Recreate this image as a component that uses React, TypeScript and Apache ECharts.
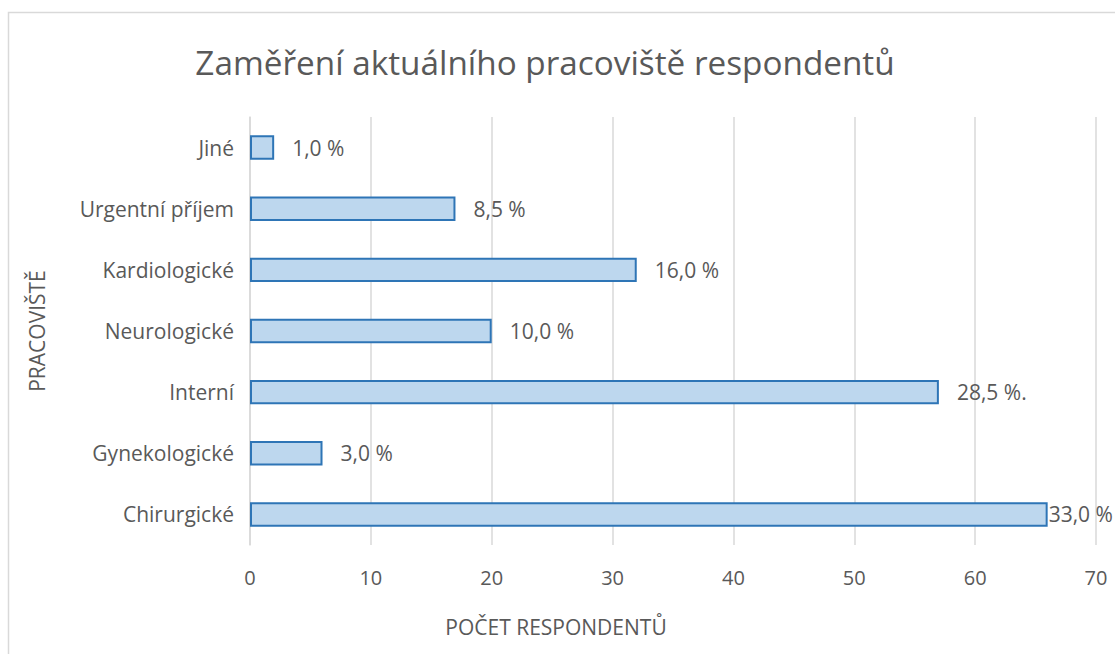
import React, { useEffect, useRef } from "react";
import * as echarts from "echarts";

const categories = ["Chirurgické", "Gynekologické", "Interní", "Neurologické", "Kardiologické", "Urgentní příjem", "Jiné"];
const counts = [66, 6, 57, 20, 32, 17, 2];
const percentLabels = ["33,0 %", "3,0 %", "28,5 %.", "10,0 %", "16,0 %", "8,5 %", "1,0 %"];
const xTicks = [0, 10, 20, 30, 40, 50, 60, 70];

const FONT = "'Open Sans', 'Noto Sans', sans-serif";
const GRAY = "#595959";

export default function App() {
  const ref = useRef<HTMLDivElement>(null);
  useEffect(() => {
    const chart = echarts.init(ref.current!, null, { renderer: "svg" });
    chart.setOption({
      animation: false,
      backgroundColor: "#ffffff",
      title: {
        text: "Zaměření aktuálního pracoviště respondentů",
        left: 540,
        textAlign: "center",
        top: 40,
        textStyle: { fontFamily: FONT, fontSize: 33.3, fontWeight: "normal", color: GRAY },
      },
      graphic: [
        {
          type: "rect",
          shape: { x: 8.5, y: 12.5, width: 1130, height: 660 },
          style: { fill: "none", stroke: "#d9d9d9", lineWidth: 1.5 },
          silent: true,
        },
      ],
      grid: { left: 250, right: 19, top: 117, bottom: 109 },
      xAxis: {
        type: "value",
        min: xTicks[0],
        max: xTicks[xTicks.length - 1],
        interval: 10,
        name: "POČET RESPONDENTŮ",
        nameLocation: "middle",
        nameGap: 71,
        nameTextStyle: { fontFamily: FONT, fontSize: 21, color: GRAY, padding: [0, 234, 0, 0] },
        axisLine: { show: false },
        axisTick: { show: false },
        axisLabel: { fontFamily: FONT, fontSize: 20, color: GRAY, margin: 22 },
        splitLine: { show: true, lineStyle: { color: "#d9d9d9", width: 1.5 } },
      },
      yAxis: {
        type: "category",
        data: categories,
        name: "PRACOVIŠTĚ",
        nameLocation: "middle",
        nameGap: 203,
        nameRotate: 90,
        nameTextStyle: { fontFamily: FONT, fontSize: 21, color: GRAY },
        axisLine: { show: true, lineStyle: { color: "#d9d9d9", width: 1.5 } },
        axisTick: { show: false },
        axisLabel: { fontFamily: FONT, fontSize: 21, color: GRAY, margin: 16 },
        splitLine: { show: false },
      },
      series: [
        {
          type: "bar",
          data: counts.map((v, i) => ({
            value: v,
            label: { distance: i === 0 ? 1 : 18 },
          })),
          barWidth: "40%",
          itemStyle: { color: "#BDD7EE", borderColor: "#2E75B6", borderWidth: 2 },
          label: {
            show: true,
            position: "right",
            fontFamily: FONT,
            fontSize: 21,
            color: GRAY,
            formatter: (p: any) => percentLabels[p.dataIndex],
          },
        },
      ],
    });
    return () => chart.dispose();
  }, []);
  return (
    <div
      ref={ref}
      style={{ position: "absolute", left: 0, top: 0, width: 1115, height: 654 }}
    />
  );
}
